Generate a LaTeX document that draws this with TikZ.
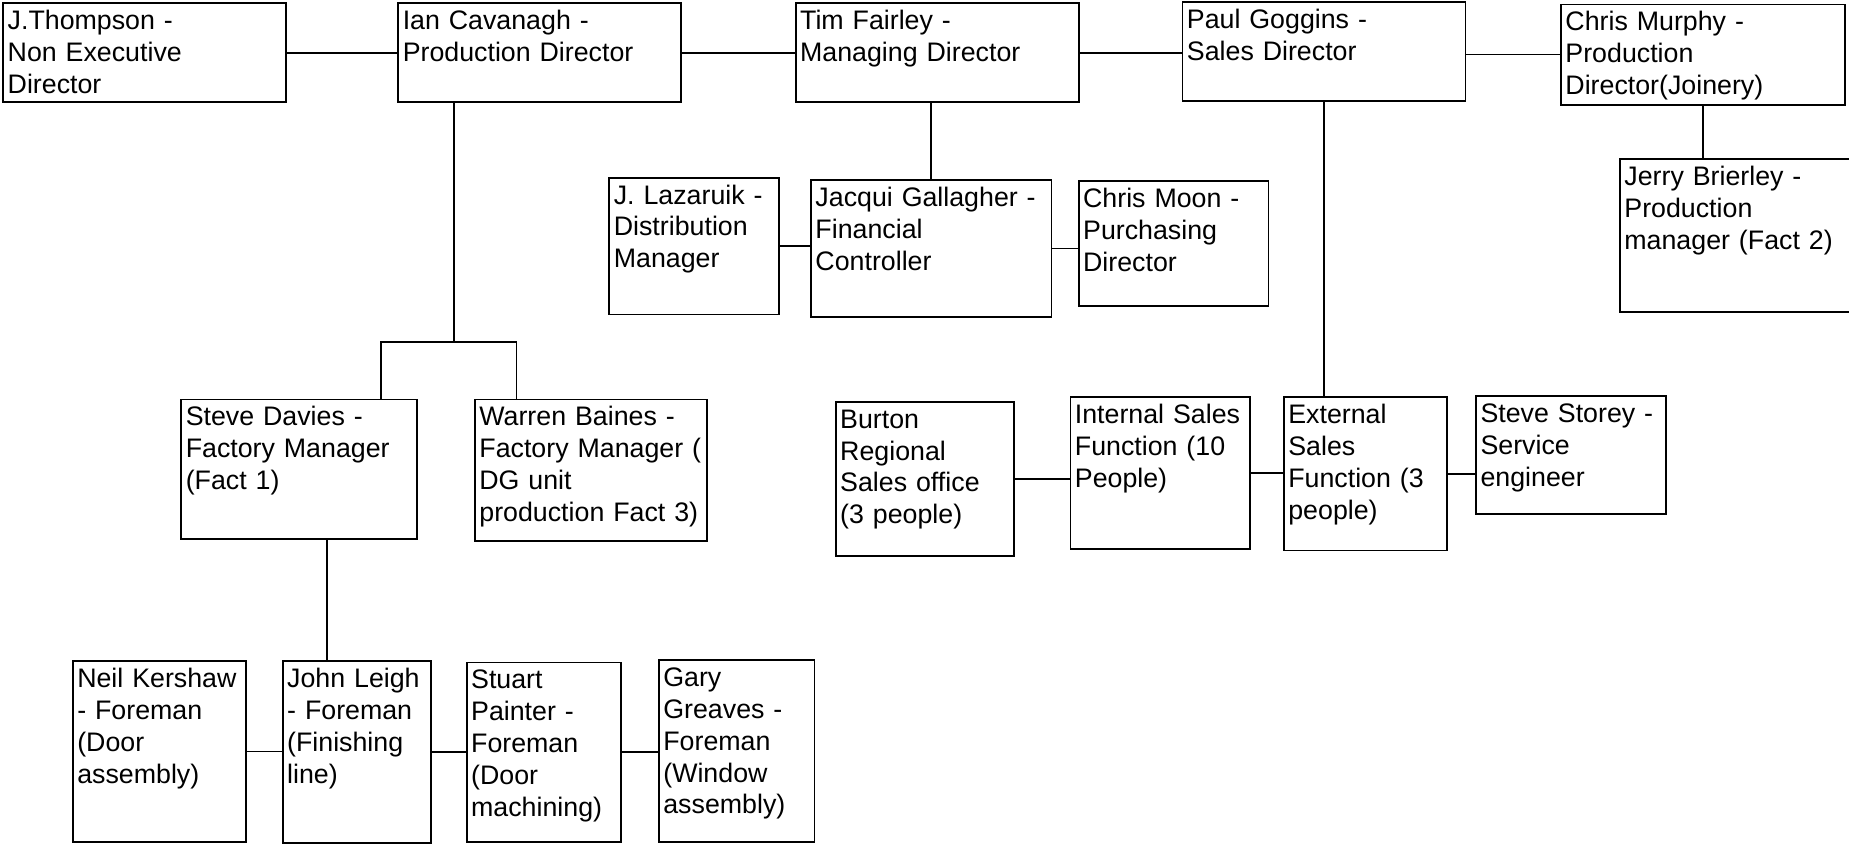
\documentclass[tikz,border=0pt]{standalone}
\usepackage{fontspec}
\setmainfont{Liberation Sans}
\usepackage{xcolor}
\usepackage{tikz}

\begin{document}
\begin{tikzpicture}[x=0.5286pt,y=-0.5286pt]
			\tikzset{post/.style 2 args = {draw, line width=0.8pt, anchor=north west, align=left, inner xsep=2pt, inner ysep=2pt, font=\fontsize{12}{14.3}\selectfont, text width=0.5286pt*#1-4pt, text height=9.8pt, text depth=0.5286pt*#2-13.8pt}}
			\tikzset{edge/.style = {-, line width=0.8pt}}
			\clip (0,0) rectangle (1568,715);
			
			% board
			\node[post={240}{84}](thompson) at (2,2) {J.Thompson -\\Non Executive\\Director};
			\node[post={240}{84}](cavanagh) at (337,2) {Ian Cavanagh -\\Production Director};
			\node[post={240}{84}](fairley) at (674,2) {Tim Fairley -\\Managing Director};
			\node[post={240}{84}](goggins) at (1002,1) {Paul Goggins -\\Sales Director};
			\node[post={241}{85}](murphy) at (1323,3) {Chris Murphy -\\Production\\Director(Joinery)};
			\draw[edge](thompson) to (cavanagh);
			\draw[edge](cavanagh) to (fairley);
			\draw[edge](fairley.east) to (fairley.east -| goggins.west);
			\draw[edge](murphy.west -| goggins.east) to (murphy.west);
			
			\node[post={200}{130}](brierley) at (1373,134) {Jerry Brierley -\\Production\\manager (Fact 2)};
			\draw[edge](murphy.south) to (murphy.south |- brierley.north);
			
			\node[post={144}{116}](lazaruik) at (516,150) {J. Lazaruik -\\Distribution\\Manager};
			\node[post={204}{116}](gallagher) at (687,152) {Jacqui Gallagher -\\Financial\\Controller};
			\node[post={161}{106}](moon) at (914,153) {Chris Moon -\\Purchasing\\Director};
			\draw[edge](gallagher.north) to (gallagher.north |- fairley.south);
			\draw[edge](lazaruik.east) to (lazaruik.east -| gallagher.west);
			\draw[edge](gallagher.east) to (gallagher.east -| moon.west);
			
			% factories
			\node[post={200}{118}](davies) at (153,338) {Steve Davies -\\Factory Manager\\(Fact 1)};
			\node[post={197}{120}](baines) at (402,338) {Warren Baines -\\Factory Manager (\\DG unit\\production Fact 3)};
			\coordinate (split) at (385,290);
			\coordinate (splitl) at (323,290);
			\coordinate (splitr) at (438,290);
			\draw[edge](split) to (split |- cavanagh.south);
			\draw[edge](splitl |- davies.north) -- (splitl) -- (splitr) -- (splitr |- baines.north);
			
			% sales
			\node[post={151}{131}](burton) at (708,340) {Burton\\Regional\\Sales office\\(3 people)};
			\node[post={152}{129}](intsales) at (907,336) {Internal Sales\\Function (10\\People)};
			\node[post={138}{130}](extsales) at (1088,336) {External\\Sales\\Function (3\\people)};
			\node[post={161}{100}](storey) at (1251,335) {Steve Storey -\\Service\\engineer};
			\draw[edge](goggins.south) to (goggins.south |- extsales.north);
			\draw[edge](burton.east) to (burton.east -| intsales.west);
			\draw[edge](intsales.east) to (intsales.east -| extsales.west);
			\draw[edge](extsales.east) to (extsales.east -| storey.west);
			
			% foremen
			\node[post={147}{153}](kershaw) at (61,560) {Neil Kershaw\\- Foreman\\(Door\\assembly)};
			\node[post={126}{154}](leigh) at (239,560) {John Leigh\\- Foreman\\(Finishing\\line)};
			\node[post={131}{152}](painter) at (395,561) {Stuart\\Painter -\\Foreman\\(Door\\machining)};
			\node[post={132}{154}](greaves) at (558,559) {Gary\\Greaves -\\Foreman\\(Window\\assembly)};
			\coordinate (drop) at (277,560);
			\draw[edge](drop) to (drop |- davies.south);
			\draw[edge](kershaw.east) to (kershaw.east -| leigh.west);
			\draw[edge](leigh.east) to (leigh.east -| painter.west);
			\draw[edge](painter.east) to (painter.east -| greaves.west);
			
			\end{tikzpicture}
\end{document}
